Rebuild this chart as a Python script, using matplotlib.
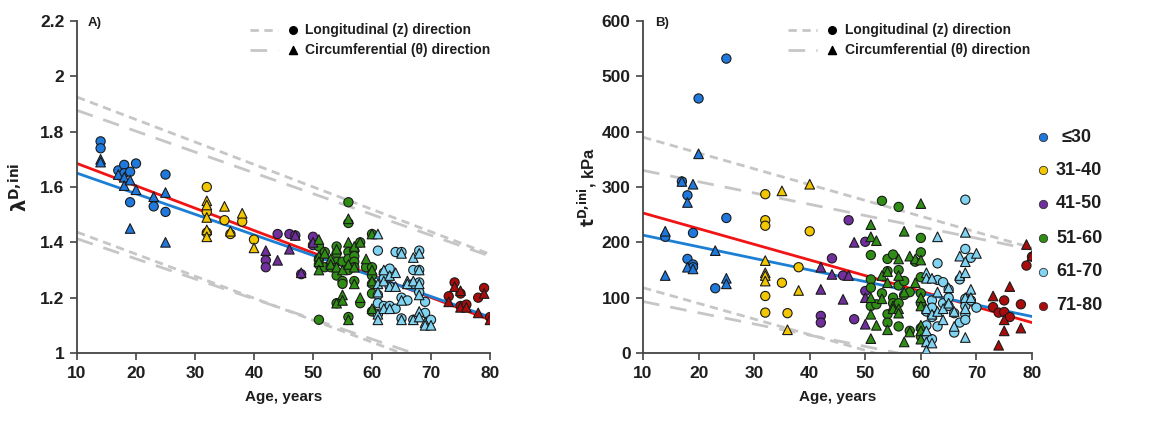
import matplotlib
matplotlib.use("Agg")
import matplotlib.pyplot as plt
import numpy as np

plt.rcParams['font.family'] = ['Liberation Sans', 'DejaVu Sans']
plt.rcParams['font.weight'] = 'bold'
plt.rcParams['mathtext.fontset'] = 'dejavusans'

# ---------------- data ----------------
group_labels = ["\u226430", "31-40", "41-50", "51-60", "61-70", "71-80"]
group_upper = [30, 40, 50, 60, 70, 80]
group_colors = ["#1f78dc", "#f2c600", "#702f9c", "#2f8c14", "#80d4f2", "#aa0c0c"]

# Panel A: lambda^{D,ini}
A_long_age = [14, 14, 17, 18, 18, 19, 20, 19, 23, 25, 25,
              32, 32, 32, 35, 36, 38, 40,
              42, 42, 44, 46, 47, 48, 50, 50,
              51, 51, 51, 51, 52, 52, 53, 54, 54, 54, 54, 54, 55, 55, 55, 56, 56, 56, 56, 56, 56,
              57, 57, 57, 57, 57, 58, 58, 59, 60, 60, 60, 60, 60, 60,
              61, 61, 61, 61, 62, 62, 62, 63, 63, 63, 64, 64, 65, 65, 65, 66, 67, 67, 67,
              68, 68, 68, 68, 69, 69, 70,
              73, 74, 75, 75, 76, 78, 79, 80]
A_long_val = [1.765, 1.74, 1.66, 1.68, 1.65, 1.655, 1.685, 1.545, 1.53, 1.645, 1.51,
              1.60, 1.51, 1.435, 1.48, 1.43, 1.475, 1.41,
              1.335, 1.31, 1.43, 1.43, 1.425, 1.285, 1.42, 1.39,
              1.385, 1.34, 1.32, 1.12, 1.365, 1.31, 1.31, 1.385, 1.36, 1.33, 1.28, 1.18, 1.33, 1.26, 1.25,
              1.545, 1.47, 1.365, 1.34, 1.30, 1.13,
              1.37, 1.35, 1.33, 1.31, 1.26, 1.40, 1.18, 1.31, 1.43, 1.31, 1.28, 1.25, 1.215, 1.15,
              1.37, 1.21, 1.18, 1.14, 1.29, 1.27, 1.17, 1.305, 1.24, 1.17, 1.365, 1.16, 1.365, 1.20, 1.125,
              1.19, 1.30, 1.25, 1.12, 1.37, 1.30, 1.255, 1.22, 1.185, 1.145, 1.12,
              1.205, 1.255, 1.215, 1.17, 1.175, 1.20, 1.235, 1.13]
A_circ_age = [14, 14, 17, 18, 18, 19, 19, 20, 23, 25, 25,
              32, 32, 32, 32, 32, 35, 36, 38, 40,
              42, 44, 46, 47, 48, 50,
              51, 51, 51, 51, 52, 53, 53, 54, 54, 54, 55, 55, 55, 56, 56, 56, 56, 57, 57, 57, 58, 58, 59,
              60, 60, 60, 60,
              61, 61, 61, 61, 61, 62, 62, 62, 63, 63, 63, 64, 64, 65, 65, 65, 66, 66, 67, 67, 67,
              68, 68, 68, 68, 68, 68, 69, 69, 70,
              73, 74, 75, 75, 76, 78, 79, 80]
A_circ_val = [1.70, 1.69, 1.645, 1.635, 1.605, 1.625, 1.45, 1.59, 1.565, 1.58, 1.40,
              1.55, 1.535, 1.49, 1.445, 1.42, 1.53, 1.44, 1.505, 1.38,
              1.37, 1.335, 1.375, 1.425, 1.29, 1.40,
              1.41, 1.35, 1.33, 1.30, 1.36, 1.34, 1.32, 1.375, 1.31, 1.18, 1.30, 1.21, 1.19,
              1.485, 1.40, 1.32, 1.12, 1.385, 1.31, 1.25, 1.40, 1.20, 1.34,
              1.43, 1.30, 1.26, 1.16,
              1.43, 1.25, 1.22, 1.14, 1.12, 1.30, 1.26, 1.16, 1.28, 1.24, 1.16, 1.29, 1.24, 1.36, 1.19, 1.12,
              1.26, 1.25, 1.345, 1.26, 1.12,
              1.36, 1.30, 1.25, 1.21, 1.15, 1.13, 1.11, 1.10, 1.10,
              1.185, 1.24, 1.225, 1.165, 1.165, 1.145, 1.215, 1.12]

# Panel B: t^{D,ini}, kPa
B_long_age = [14, 17, 18, 18, 19, 19, 19, 20, 23, 25, 25,
              32, 32, 32, 32, 32, 35, 36, 38, 40,
              42, 42, 44, 46, 47, 48, 50, 50,
              51, 51, 51, 51, 52, 53, 53, 54, 54, 54, 54, 55, 55, 55, 56, 56, 56, 56, 56,
              57, 57, 58, 58, 59, 60, 60, 60, 60, 60, 60, 60,
              61, 61, 61, 62, 62, 62, 62, 63, 63, 63, 64, 64, 65, 65, 65, 66, 66, 67, 67,
              68, 68, 68, 68, 68, 68, 69, 69, 70,
              73, 74, 75, 75, 76, 78, 79, 80]
B_long_val = [210, 310, 285, 170, 160, 155, 217, 460, 117, 532, 244,
              287, 240, 230, 103, 73, 127, 72, 155, 220,
              67, 55, 171, 140, 240, 61, 201, 112,
              177, 133, 118, 85, 88, 275, 108, 170, 148, 70, 55, 178, 100, 90, 264, 150, 122, 90, 48,
              130, 105, 110, 40, 165, 208, 182, 137, 108, 90, 45, 30,
              75, 50, 30, 95, 82, 65, 25, 162, 132, 48, 128, 90, 115, 100, 85, 72, 37, 133, 55,
              277, 188, 98, 85, 70, 60, 172, 95, 82,
              83, 73, 95, 74, 65, 88, 158, 174]
B_circ_age = [14, 14, 17, 18, 18, 19, 19, 20, 23, 25, 25,
              32, 32, 32, 32, 35, 36, 38, 40,
              42, 42, 44, 46, 47, 48, 50, 50,
              51, 51, 51, 51, 51, 52, 52, 53, 53, 54, 54, 54, 55, 55, 56, 56, 56, 56, 57, 57, 57,
              58, 58, 59, 59, 60, 60, 60, 60, 60, 60, 60,
              61, 61, 61, 61, 61, 61, 62, 62, 62, 63, 63, 63, 64, 64, 65, 65, 66, 66, 67, 67,
              68, 68, 68, 68, 68, 68, 69, 69, 70,
              73, 74, 75, 75, 76, 78, 79, 80]
B_circ_val = [220, 140, 310, 272, 155, 305, 152, 360, 185, 135, 125,
              167, 145, 140, 130, 293, 42, 113, 305,
              155, 115, 142, 97, 140, 200, 100, 52,
              232, 210, 100, 70, 26, 203, 50, 140, 98, 147, 127, 42, 85, 80, 170, 140, 80, 72,
              220, 110, 20, 175, 38, 170, 127, 270, 168, 100, 85, 50, 40, 25,
              145, 135, 80, 40, 20, 5, 135, 70, 18, 210, 110, 75, 60, 80, 118, 90, 75, 48, 175, 140,
              218, 165, 145, 100, 80, 28, 115, 100, 180,
              103, 14, 60, 40, 120, 45, 196, 176]

# trend lines (values at age 10 and age 80)
line_ages = [10, 80]
A_fit_long = [1.685, 1.120]
A_fit_circ = [1.650, 1.130]
A_band_long_hi = [1.925, 1.357]
A_band_long_lo = [1.437, 0.880]
A_band_circ_hi = [1.877, 1.350]
A_band_circ_lo = [1.413, 0.905]
B_fit_long = [253, 55]
B_fit_circ = [213, 66]
B_band_long_hi = [390, 190]
B_band_long_lo = [118, -80]
B_band_circ_hi = [330, 187]
B_band_circ_lo = [93, -49]

# ---------------- plotting ----------------
W, H = 1159, 422
fig = plt.figure(figsize=(W / 100, H / 100), dpi=100)
axA = fig.add_axes([77 / W, 1 - 353 / H, (490 - 77) / W, (353 - 21) / H])
axB = fig.add_axes([643 / W, 1 - 353 / H, (1032 - 643) / W, (353 - 21) / H])

def colors_for(ages):
    idx = np.searchsorted(group_upper, np.asarray(ages), side='left')
    return [group_colors[i] for i in idx]

grey = "#c6c6c6"
fine = (0, (3.0, 2.0))
longd = (0, (6.0, 4.0))
txtc = '#1e1e1e'

def draw(ax, la, lv, ca, cv, fl, fc, blh, bll, bch, bcl):
    for hi_lo, ls in ((blh, fine), (bll, fine), (bch, longd), (bcl, longd)):
        ax.plot(line_ages, hi_lo, color=grey, lw=2.0, linestyle=ls, zorder=1)
    ax.plot(line_ages, fl, color="#f01414", lw=2.0, zorder=2)
    ax.plot(line_ages, fc, color="#1c7fd4", lw=2.0, zorder=2)
    ax.scatter(la, lv, s=44, marker='o', c=colors_for(la), edgecolors='#1a1a1a',
               linewidths=0.8, zorder=3)
    ax.scatter(ca, cv, s=48, marker='^', c=colors_for(ca), edgecolors='#1a1a1a',
               linewidths=0.8, zorder=4)
    ax.set_xlim(10, 80)
    ax.set_xticks(range(10, 81, 10))
    for sp in ('top', 'right'):
        ax.spines[sp].set_visible(False)
    for sp in ('left', 'bottom'):
        ax.spines[sp].set_color('#444444')
        ax.spines[sp].set_linewidth(1.3)
    ax.tick_params(axis='both', direction='out', length=5, width=1.2, color='#444444',
                   labelsize=12.5, pad=4, labelcolor=txtc)
    ax.set_xlabel("Age, years", fontsize=11, fontweight='bold', labelpad=7, color=txtc)

draw(axA, A_long_age, A_long_val, A_circ_age, A_circ_val, A_fit_long, A_fit_circ,
     A_band_long_hi, A_band_long_lo, A_band_circ_hi, A_band_circ_lo)
axA.set_ylim(1.0, 2.2)
axA.set_yticks([1.0, 1.2, 1.4, 1.6, 1.8, 2.0, 2.2])
axA.set_yticklabels(["1", "1.2", "1.4", "1.6", "1.8", "2", "2.2"])
axA.set_ylabel(r"$\mathbf{\lambda}^{\mathbf{D,\!ini}}$", fontsize=14, labelpad=6, color=txtc,
               fontweight='bold')

draw(axB, B_long_age, B_long_val, B_circ_age, B_circ_val, B_fit_long, B_fit_circ,
     B_band_long_hi, B_band_long_lo, B_band_circ_hi, B_band_circ_lo)
axB.set_ylim(0, 600)
axB.set_yticks(range(0, 601, 100))
axB.set_ylabel(r"$\mathbf{t}^{\mathbf{D,\!ini}}$, kPa", fontsize=12, labelpad=2, color=txtc,
               fontweight='bold')

for ax in (axA, axB):
    for lab in ax.get_xticklabels() + ax.get_yticklabels():
        lab.set_fontweight('bold')

axA.text(0.027, 0.995, "A)", transform=axA.transAxes, fontsize=9.5, fontweight='bold',
         va='center', ha='left', color=txtc)
axB.text(0.03, 0.995, "B)", transform=axB.transAxes, fontsize=9.5, fontweight='bold',
         va='center', ha='left', color=txtc)

# direction legends
def dir_legend(ax, x0, x1, xm, xt, y1, y2):
    ax.plot([x0, x1], [y1, y1], transform=ax.transAxes, color=grey, lw=2.0,
            linestyle=fine, clip_on=False)
    ax.plot([x0, x1], [y2, y2], transform=ax.transAxes, color=grey, lw=2.0,
            linestyle=longd, clip_on=False)
    ax.scatter([xm], [y1], transform=ax.transAxes, marker='o', s=30, color='black', clip_on=False)
    ax.scatter([xm], [y2], transform=ax.transAxes, marker='^', s=34, color='black', clip_on=False)
    ax.text(xt, y1, "Longitudinal (z) direction", transform=ax.transAxes, fontsize=10,
            fontweight='bold', va='center', ha='left', color=txtc)
    ax.text(xt, y2, "Circumferential (\u03b8) direction", transform=ax.transAxes,
            fontsize=10, fontweight='bold', va='center', ha='left', color=txtc)

dir_legend(axA, 0.419, 0.487, 0.523, 0.552, 0.973, 0.913)
dir_legend(axB, 0.373, 0.447, 0.486, 0.519, 0.973, 0.913)

# age-group legend
leg_y = [137, 170, 204, 238, 272, 306]
for lab, col, yy in zip(group_labels, group_colors, leg_y):
    fig.add_artist(plt.Line2D([1043 / W], [1 - yy / H], marker='o', markersize=6,
                              markerfacecolor=col, markeredgecolor='#333333',
                              markeredgewidth=0.6, linestyle='none'))
    fig.text(1056 / W if lab != group_labels[0] else 1062 / W, 1 - yy / H, lab,
             fontsize=13, fontweight='bold', va='center', ha='left', color=txtc)

fig.savefig("out.png", dpi=100)
